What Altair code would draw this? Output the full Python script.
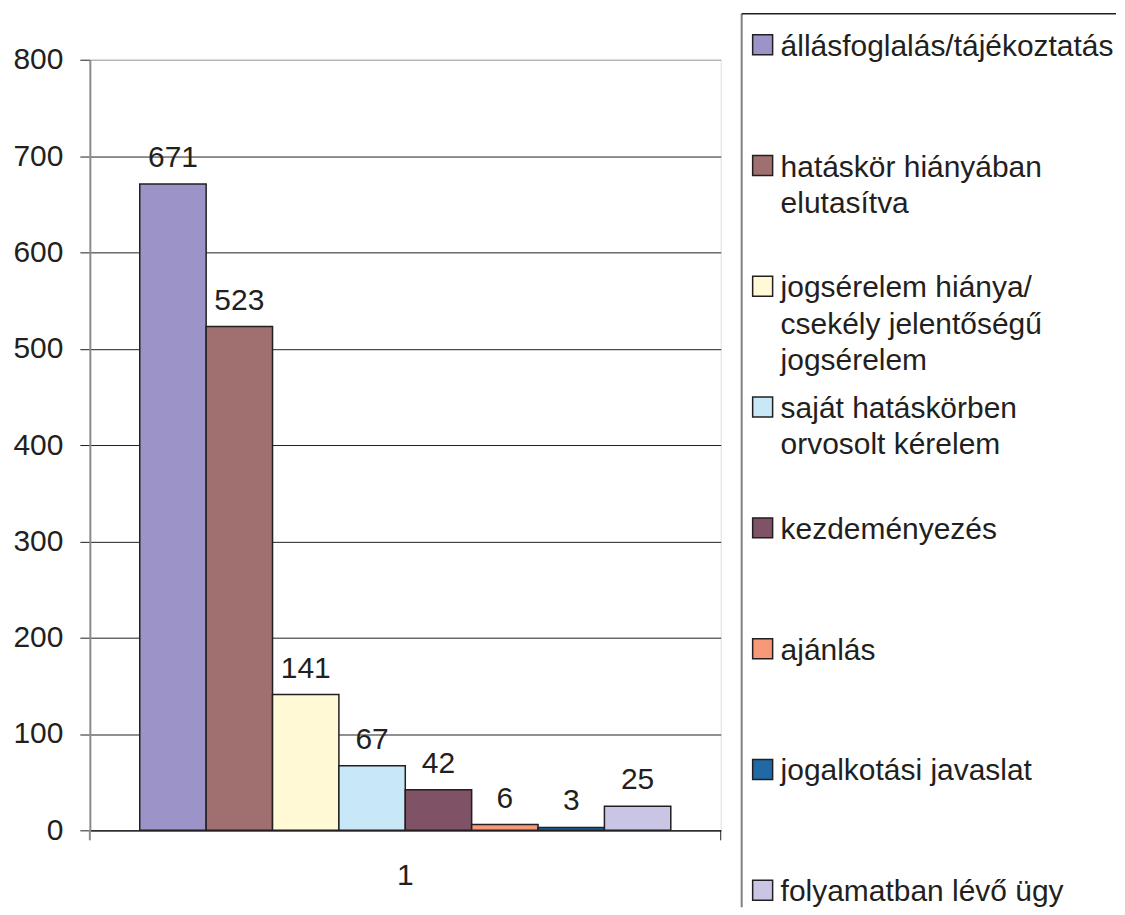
import altair as alt
import pandas as pd

categories = [
    "állásfoglalás/tájékoztatás",
    "hatáskör hiányában elutasítva",
    "jogsérelem hiánya/csekély jelentőségű jogsérelem",
    "saját hatáskörben orvosolt kérelem",
    "kezdeményezés",
    "ajánlás",
    "jogalkotási javaslat",
    "folyamatban lévő ügy",
]
legend_labels = [
    "állásfoglalás/tájékoztatás",
    "hatáskör hiányában\nelutasítva",
    "jogsérelem hiánya/\ncsekély jelentőségű\njogsérelem",
    "saját hatáskörben\norvosolt kérelem",
    "kezdeményezés",
    "ajánlás",
    "jogalkotási javaslat",
    "folyamatban lévő ügy",
]
values = [671, 523, 141, 67, 42, 6, 3, 25]
colors = ["#9C94C8", "#A07070", "#FFF9D5", "#C8E8F8", "#7F5266", "#F79878", "#1F6AA5", "#C9C6E5"]
group_label = "1"
y_ticks = [0, 100, 200, 300, 400, 500, 600, 700, 800]

df = pd.DataFrame({
    "group": [group_label] * len(categories),
    "cat": categories,
    "value": values,
    "legend_label": legend_labels,
    "row": list(range(len(categories))),
})

W, H = 632, 772
INK = "#231F20"
FONT = "Liberation Sans"

color_scale = alt.Scale(domain=categories, range=colors)

x_enc = alt.X("group:N", title=None,
              scale=alt.Scale(paddingInner=0, paddingOuter=0.094),
              axis=alt.Axis(labelAngle=0, ticks=False, labelFontSize=30, labelPadding=30,
                            labelColor=INK, domainColor=INK, domainWidth=1.2, labelFont=FONT))
xoff_enc = alt.XOffset("cat:N", sort=categories, scale=alt.Scale(paddingInner=0, paddingOuter=0))
y_enc = alt.Y("value:Q", title=None, scale=alt.Scale(domain=[0, 800]),
              axis=alt.Axis(values=y_ticks, labelFontSize=30, labelPadding=17, tickSize=10,
                            tickColor=INK, labelColor=INK, domainColor="#8C8C8C", domainWidth=2,
                            labelFont=FONT, grid=True,
                            gridColor={"condition": {"test": "datum.value >= 800", "value": "#A0A0A0"},
                                       "value": INK},
                            gridWidth=1))

base = alt.Chart(df)

bars = base.mark_bar(stroke=INK, strokeWidth=1.5).encode(
    x=x_enc,
    xOffset=xoff_enc,
    y=y_enc,
    color=alt.Color("cat:N", scale=color_scale, legend=None),
)

bar_labels = base.mark_text(baseline="alphabetic", dy=-17, fontSize=30, color=INK, font=FONT).encode(
    x=x_enc,
    xOffset=xoff_enc,
    y=alt.Y("value:Q"),
    text=alt.Text("value:Q"),
)

one = pd.DataFrame({"k": [0]})
tick_l = alt.Chart(one).mark_rule(color="#8C8C8C", strokeWidth=2).encode(
    x=alt.value(0), y=alt.value(H), y2=alt.value(H + 10))
tick_r = alt.Chart(one).mark_rule(color=INK, strokeWidth=1).encode(
    x=alt.value(W), y=alt.value(H), y2=alt.value(H + 10))

plot_layer = alt.layer(bars, bar_labels, tick_l, tick_r)

leg_y = alt.Y("row:Q", scale=alt.Scale(domain=[0, 7], range=[-15, 832]), axis=None)

swatches = base.mark_square(size=400, stroke=INK, strokeWidth=1.5, opacity=1).encode(
    x=alt.value(674),
    y=leg_y,
    fill=alt.Fill("cat:N", scale=color_scale, legend=None),
)

leg_text = base.mark_text(align="left", baseline="top", dy=-13, fontSize=30, lineBreak="\n",
                          lineHeight=36.5, color=INK, font=FONT).encode(
    x=alt.value(692),
    y=leg_y,
    text=alt.Text("legend_label:N"),
)

leg_vline = alt.Chart(one).mark_rule(color="#808080", strokeWidth=2).encode(
    x=alt.value(653), y=alt.value(-46), y2=alt.value(849))
leg_hline = alt.Chart(one).mark_rule(color=INK, strokeWidth=1.5).encode(
    x=alt.value(653), x2=alt.value(1028), y=alt.value(-46))

legend_layer = alt.layer(swatches, leg_text, leg_vline, leg_hline)

chart = alt.layer(plot_layer, legend_layer).resolve_scale(
    y="independent"
).properties(
    width=W, height=H,
    padding={"left": 4, "top": 4, "right": 0, "bottom": 0},
).configure_view(
    fill="#C8C9CB", stroke="#A0A0A0", strokeWidth=1.5
).configure(font=FONT)

chart.save("out.html", embed_options={"renderer": "svg", "actions": False})
